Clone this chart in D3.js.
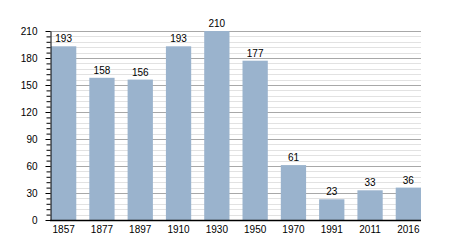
<!DOCTYPE html>
<html>
<head>
<meta charset="utf-8">
<script src="https://cdn.jsdelivr.net/npm/d3@7"></script>
<style>
  body { margin: 0; background: #fff; }
  text { font-family: "Liberation Sans", Arial, sans-serif; font-size: 10px; fill: #000; }
</style>
</head>
<body>
<div id="chart"></div>
<script>
// data
var years = ["1857", "1877", "1897", "1910", "1930", "1950", "1970", "1991", "2011", "2016"];
var population = [193, 158, 156, 193, 210, 177, 61, 23, 33, 36];
var majorTicks = [0, 30, 60, 90, 120, 150, 180, 210];

var svgWidth = 450;
var svgHeight = 250;

// plot area
var plotLeft = 50, plotRight = 421, plotTop = 31, plotBottom = 220;

var svg = d3.select("#chart").append("svg")
  .attr("width", svgWidth)
  .attr("height", svgHeight);

var yScale = d3.scaleLinear()
  .domain([0, 210])
  .range([plotBottom, plotTop]);

var xScale = d3.scaleBand()
  .domain(years)
  .range([plotLeft + 1, plotRight])
  .paddingInner(0.34)
  .paddingOuter(0);

// minor gridlines every 6
var minor = d3.range(0, 211, 6).filter(v => v % 30 !== 0);
svg.append("g").selectAll("line")
  .data(minor)
  .enter().append("line")
  .attr("x1", plotLeft).attr("x2", plotRight)
  .attr("y1", d => Math.round(yScale(d)) + 0.5)
  .attr("y2", d => Math.round(yScale(d)) + 0.5)
  .attr("stroke", "#e2e2e2");

// major gridlines
svg.append("g").selectAll("line")
  .data(majorTicks.filter(d => d > 0))
  .enter().append("line")
  .attr("x1", plotLeft).attr("x2", plotRight)
  .attr("y1", d => Math.round(yScale(d)) + 0.5)
  .attr("y2", d => Math.round(yScale(d)) + 0.5)
  .attr("stroke", "#a8a8a8");

// bars
svg.append("g").selectAll("rect")
  .data(population)
  .enter().append("rect")
  .attr("x", (d, i) => xScale(years[i]))
  .attr("y", d => yScale(d))
  .attr("width", xScale.bandwidth())
  .attr("height", d => plotBottom - yScale(d))
  .attr("fill", "#9ab3cd");

// value labels
svg.append("g").selectAll("text")
  .data(population)
  .enter().append("text")
  .attr("x", (d, i) => xScale(years[i]) + xScale.bandwidth() / 2)
  .attr("y", d => yScale(d) - 4)
  .attr("text-anchor", "middle")
  .text(d => d);

// y axis with minor ticks
var yMinorAxis = d3.axisLeft(yScale)
  .tickValues(minor)
  .tickSize(4)
  .tickFormat("");
svg.append("g")
  .attr("transform", `translate(${plotLeft + 0.5}, 0)`)
  .call(yMinorAxis)
  .call(g => g.select(".domain").remove());

var yAxis = d3.axisLeft(yScale)
  .tickValues(majorTicks)
  .tickSize(5)
  .tickSizeOuter(0)
  .tickPadding(8);
svg.append("g")
  .attr("transform", `translate(${plotLeft + 0.5}, 0)`)
  .call(yAxis)
  .call(g => g.selectAll("text").style("font-size", "10px"));

// x axis
var xAxis = d3.axisBottom(xScale)
  .tickSize(0)
  .tickSizeOuter(0)
  .tickPadding(5);
svg.append("g")
  .attr("transform", `translate(0, ${plotBottom + 0.5})`)
  .call(xAxis)
  .call(g => g.select(".domain").attr("d", `M${plotLeft},0H${plotRight}`).attr("stroke-width", 1.5))
  .call(g => g.selectAll("text").style("font-size", "10px"));
</script>
</body>
</html>
